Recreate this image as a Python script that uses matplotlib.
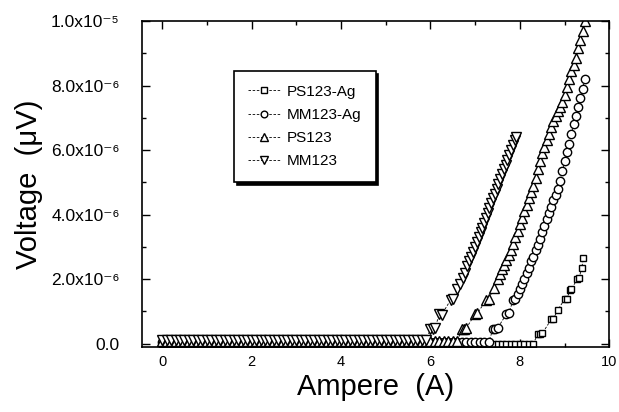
import matplotlib.pyplot as plt
from matplotlib.ticker import MultipleLocator, FuncFormatter

plt.rcParams['font.family'] = ['Liberation Sans', 'DejaVu Sans']

# corriente del barrido (A), tramo plano antes de la transicion
base_current = [0.0, 0.1, 0.2, 0.3, 0.4, 0.5, 0.6, 0.7, 0.8, 0.9,
                1.0, 1.1, 1.2, 1.3, 1.4, 1.5, 1.6, 1.7, 1.8, 1.9,
                2.0, 2.1, 2.2, 2.3, 2.4, 2.5, 2.6, 2.7, 2.8, 2.9,
                3.0, 3.1, 3.2, 3.3, 3.4, 3.5, 3.6, 3.7, 3.8, 3.9,
                4.0, 4.1, 4.2, 4.3, 4.4, 4.5, 4.6, 4.7, 4.8, 4.9,
                5.0, 5.1, 5.2, 5.3, 5.4, 5.5, 5.6, 5.7, 5.8, 5.9,
                6.0, 6.1, 6.2, 6.3, 6.4, 6.5, 6.6, 6.7, 6.8, 6.9,
                7.0, 7.1, 7.2, 7.3, 7.4, 7.5, 7.6, 7.7, 7.8, 7.9,
                8.0, 8.1, 8.2, 8.3]

# onset de cada muestra (hasta donde el voltaje es ~0) y nivel del tramo plano (x1e-6)
onset = {'PS123-Ag': 8.35, 'MM123-Ag': 7.35, 'PS123': 6.65, 'MM123': 5.95}
base_level = {'PS123-Ag': 0.0, 'MM123-Ag': 0.05, 'PS123': 0.08, 'MM123': 0.1}

# tramo de subida, voltaje en uV*1e-6
ps_ag_x = [8.4, 8.45, 8.5, 8.7, 8.75, 8.85, 9.0, 9.05, 9.12, 9.15, 9.28, 9.32, 9.38, 9.42]
ps_ag_y = [0.3, 0.3, 0.32, 0.75, 0.78, 1.05, 1.38, 1.4, 1.65, 1.68, 2.0, 2.02, 2.33, 2.65]

mm_ag_x = [7.4, 7.45, 7.5, 7.7, 7.75, 7.85, 7.9, 7.95, 8.0, 8.05, 8.1, 8.15, 8.2,
           8.25, 8.3, 8.35, 8.4, 8.45, 8.5, 8.55, 8.6, 8.65, 8.7, 8.75, 8.8, 8.85,
           8.9, 8.95, 9.0, 9.05, 9.1, 9.15, 9.2, 9.25, 9.3, 9.35, 9.4, 9.45]
mm_ag_y = [0.45, 0.45, 0.48, 0.92, 0.95, 1.35, 1.38, 1.55, 1.7, 1.85, 2.0, 2.2, 2.35,
           2.55, 2.7, 2.9, 3.05, 3.25, 3.45, 3.65, 3.85, 4.05, 4.25, 4.45, 4.6, 4.8,
           5.05, 5.35, 5.65, 5.95, 6.2, 6.5, 6.8, 7.05, 7.35, 7.6, 7.9, 8.2]

ps_x = [6.7, 6.75, 6.8, 7.0, 7.05, 7.25, 7.3, 7.42, 7.5, 7.55, 7.6, 7.65, 7.7, 7.75,
        7.8, 7.85, 7.9, 7.95, 8.0, 8.05, 8.1, 8.15, 8.2, 8.25, 8.3, 8.35, 8.4, 8.45,
        8.5, 8.55, 8.6, 8.65, 8.7, 8.75, 8.8, 8.85, 8.9, 8.95, 9.0, 9.05, 9.1, 9.15,
        9.2, 9.25, 9.3, 9.35, 9.4, 9.45]
ps_y = [0.45, 0.45, 0.48, 0.92, 0.95, 1.35, 1.38, 1.72, 2.0, 2.15, 2.3, 2.45, 2.6, 2.75,
        2.9, 3.1, 3.3, 3.5, 3.7, 3.9, 4.1, 4.3, 4.5, 4.7, 4.9, 5.15, 5.4, 5.65,
        5.9, 6.1, 6.3, 6.5, 6.7, 6.9, 7.05, 7.2, 7.35, 7.5, 7.7, 7.95, 8.2, 8.45,
        8.65, 8.85, 9.15, 9.4, 9.7, 10.0]

mm_x = [6.0, 6.05, 6.1, 6.2, 6.25, 6.45, 6.5, 6.6, 6.65, 6.72, 6.77, 6.82, 6.86, 6.9,
        6.95, 7.0, 7.04, 7.08, 7.12, 7.16, 7.2, 7.24, 7.28, 7.32, 7.36, 7.4, 7.44,
        7.48, 7.52, 7.56, 7.6, 7.64, 7.68, 7.72, 7.76, 7.8, 7.84, 7.88, 7.91]
mm_y = [0.45, 0.45, 0.48, 0.92, 0.9, 1.35, 1.38, 1.7, 1.85, 2.05, 2.2, 2.4, 2.55, 2.7,
        2.85, 3.0, 3.15, 3.3, 3.45, 3.6, 3.75, 3.9, 4.05, 4.2, 4.35, 4.5, 4.65,
        4.8, 4.95, 5.1, 5.25, 5.4, 5.55, 5.7, 5.85, 6.0, 6.15, 6.3, 6.4]

series = [('PS123-Ag', ps_ag_x, ps_ag_y, 's', 5.0),
          ('MM123-Ag', mm_ag_x, mm_ag_y, 'o', 6.0),
          ('PS123', ps_x, ps_y, '^', 6.5),
          ('MM123', mm_x, mm_y, 'v', 6.5)]

fig = plt.figure(figsize=(6.19, 4.12), dpi=100)
ax = fig.add_axes([0.2294, 0.158, 0.755, 0.791])

for nombre, xs, ys, mk, ms in series:
    base = [c for c in base_current if c < onset[nombre]]
    x = base + xs
    y = [base_level[nombre] * 1e-6] * len(base) + [v * 1e-6 for v in ys]
    ax.plot(x, y, linestyle='--', dashes=(3, 2), linewidth=0.6, color='black',
            marker=mk, markersize=ms, markerfacecolor='white',
            markeredgecolor='black', markeredgewidth=1.0, label=nombre)

ax.set_xlim(-0.45, 10.0)
ax.set_ylim(-0.1e-6, 1.0e-5)

ax.xaxis.set_major_locator(MultipleLocator(2))
ax.xaxis.set_minor_locator(MultipleLocator(1))
ax.yaxis.set_major_locator(MultipleLocator(2e-6))
ax.yaxis.set_minor_locator(MultipleLocator(1e-6))

sup = str.maketrans('-0123456789', '\u207b\u2070\u00b9\u00b2\u00b3\u2074\u2075\u2076\u2077\u2078\u2079')


def fmt_y(v, pos):
    if abs(v) < 1e-12:
        return '0.0'
    exp = int(f'{v:e}'.split('e')[1])
    mant = v / 10 ** exp
    return f'{mant:.1f}x10' + str(exp).translate(sup)


ax.yaxis.set_major_formatter(FuncFormatter(fmt_y))

ax.tick_params(which='both', direction='in', top=True, right=True, width=1.0)
ax.tick_params(which='major', length=6)
ax.tick_params(which='minor', length=3)
ax.tick_params(axis='y', labelsize=12.5, pad=16)
ax.tick_params(axis='x', labelsize=10.5, pad=6)
for s in ax.spines.values():
    s.set_linewidth(1.2)

ax.set_xlabel('Ampere  (A)', fontsize=21, labelpad=3)
ax.set_ylabel('Voltage  (\u03bcV)', fontsize=21, labelpad=6)

leg = ax.legend(loc='upper left', bbox_to_anchor=(0.18, 0.87), fontsize=11,
                labelspacing=0.6, handlelength=2.2, handletextpad=0.4,
                borderpad=0.9, fancybox=False, framealpha=1, edgecolor='black',
                markerscale=0.8, shadow={'color': 'black', 'alpha': 1})
leg.get_frame().set_linewidth(1.2)

plt.savefig('out.png', dpi=100)
